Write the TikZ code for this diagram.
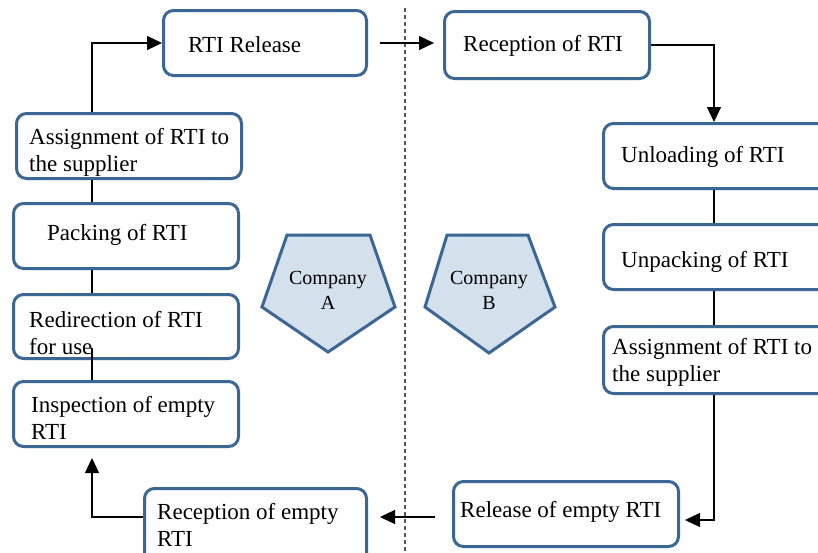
\documentclass[tikz,border=0pt]{standalone}
\usepackage{fontspec}
\setmainfont{Liberation Serif}
\usetikzlibrary{arrows.meta}
\definecolor{bblue}{HTML}{3C6794}
\definecolor{pfill}{HTML}{D4E0EC}
\definecolor{dgray}{HTML}{555555}
\tikzset{
  box/.style={draw=bblue, line width=3pt, rounded corners=10pt, fill=white, anchor=north west, inner sep=0pt},
  lbl/.style={anchor=west, inner sep=0pt, align=left, font=\fontsize{23}{27}\selectfont},
  clbl/.style={inner sep=0pt, align=center, font=\fontsize{20}{25}\selectfont},
  conn/.style={line width=1.2pt, draw=black},
  arr/.style={conn, -{Triangle[length=15pt,width=14pt]}},
  penta/.style={draw=bblue, line width=3pt, fill=pfill, line join=miter}
}
\begin{document}
\begin{tikzpicture}[x=1pt,y=-1pt]
\useasboundingbox (0,0) rectangle (818,552);
\clip (0,0) rectangle (818,552);
\fill[white] (0,0) rectangle (818,552);
% divider
\draw[dgray, line width=1.2pt, dash pattern=on 4pt off 3pt] (405,8) -- (405,552);
% boxes
\node[box, minimum width=203pt, minimum height=65pt] (rel) at (162,9) {};
\node[box, minimum width=205pt, minimum height=67pt] (recB) at (443,10) {};
\node[box, minimum width=230pt, minimum height=65pt] (unl) at (602,122) {};
\node[box, minimum width=230pt, minimum height=65pt] (unp) at (602,223) {};
\node[box, minimum width=230pt, minimum height=67pt] (asR) at (602,325) {};
\node[box, minimum width=225pt, minimum height=65pt] (relE) at (452,480) {};
\node[box, minimum width=222pt, minimum height=75pt] (recE) at (143,487) {};
\node[box, minimum width=225pt, minimum height=65pt] (insp) at (12,380) {};
\node[box, minimum width=225pt, minimum height=64pt] (redir) at (12,293) {};
\node[box, minimum width=225pt, minimum height=65pt] (pack) at (12,202) {};
\node[box, minimum width=225pt, minimum height=65pt] (asL) at (15,112) {};
% labels
\node[lbl] (tRel) at (188,45) {RTI Release};
\node[lbl] (tRecB) at (463,46) {Reception of RTI};
\node[lbl] (tUnl) at (621,157) {Unloading of RTI};
\node[lbl] (tUnp) at (621,262) {Unpacking of RTI};
\node[lbl] (tAsR) at (612,362) {Assignment of RTI to\\the supplier};
\node[lbl] (tRelE) at (460,512) {Release of empty RTI};
\node[lbl] (tRecE) at (157,525) {Reception of empty\\RTI};
\node[lbl] (tInsp) at (31,418) {Inspection of empty\\RTI};
\node[lbl] (tRedir) at (29,333) {Redirection of RTI\\for use};
\node[lbl] (tPack) at (47,235) {Packing of RTI};
\node[lbl] (tAsL) at (29,152) {Assignment of RTI to\\the supplier};
% pentagons
\draw[penta] (287,235) -- (370,235) -- (395,307) -- (328,352) -- (262,307) -- cycle;
\draw[penta] (447,235) -- (528,235) -- (555,307) -- (489,353) -- (425,307) -- cycle;
\node[clbl] (cA) at (328,290) {Company\\A};
\node[clbl] (cB) at (489,290) {Company\\B};
% spines
\coordinate (spL) at (92,0);
\coordinate (spR) at (714,0);
\coordinate (bR) at (714,520);
\coordinate (bM) at (0,517);
% connectors
\draw[arr] (spL |- asL.north) -- (spL |- rel.west) -- (rel.west);
\draw[arr, shorten <=12pt, shorten >=9pt] (rel.east) -- (recB.west |- rel.east);
\draw[arr] (recB.east) -- (spR |- recB.east) -- (spR |- unl.north);
\draw[conn] (spR |- unl.south) -- (spR |- unp.north);
\draw[conn] (spR |- unp.south) -- (spR |- asR.north);
\draw[arr, shorten >=5pt] (spR |- asR.south) -- (bR) -- (relE.east |- bR);
\draw[arr, shorten <=17pt, shorten >=12pt] (relE.west |- bM) -- (recE.east |- bM);
\draw[arr, shorten >=10pt] (recE.west |- bM) -- (spL |- bM) -- (spL |- insp.south);
\draw[conn, shorten <=-12pt] (spL |- redir.south) -- (spL |- insp.north);
\draw[conn] (spL |- pack.south) -- (spL |- redir.north);
\draw[conn] (spL |- asL.south) -- (spL |- pack.north);
\end{tikzpicture}
\end{document}
